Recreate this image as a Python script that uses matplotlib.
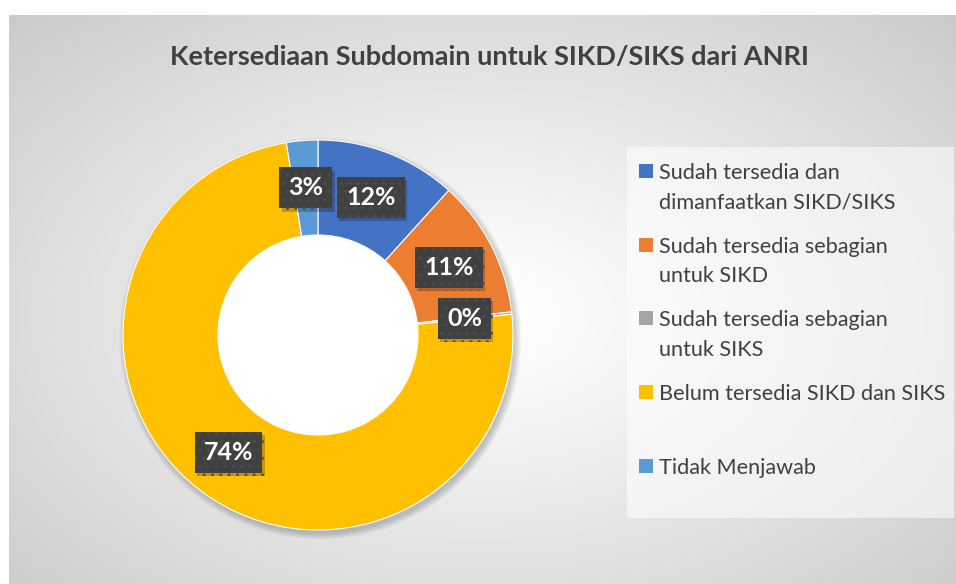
import numpy as np
import matplotlib
matplotlib.use('Agg')
import matplotlib.pyplot as plt
from matplotlib.patches import Rectangle, Circle
import matplotlib.patheffects as pe

# ---- data ----
title = 'Ketersediaan Subdomain untuk SIKD/SIKS dari ANRI'
categories = ['Sudah tersedia dan\ndimanfaatkan SIKD/SIKS',
              'Sudah tersedia sebagian\nuntuk SIKD',
              'Sudah tersedia sebagian\nuntuk SIKS',
              'Belum tersedia SIKD dan SIKS',
              'Tidak Menjawab']
values = [11.7, 11.4, 0.2, 74.1, 2.6]
colors = ['#4472C4', '#ED7D31', '#A5A5A5', '#FFC000', '#5B9BD5']

W, H = 956, 584
TXT = '#404040'
plt.rcParams['font.family'] = ['Lato', 'DejaVu Sans']

fig = plt.figure(figsize=(W / 100, H / 100), dpi=100)
fig.patch.set_facecolor('white')

# ---- chart area background (radial gradient) ----
bg = fig.add_axes([9 / W, 0, (W - 9) / W, (H - 15) / H], zorder=0)
gy, gx = np.mgrid[0:569, 0:947]
d = np.sqrt(((gx - 473) / 473.0) ** 2 + ((gy - 300) / 300.0) ** 2) / np.sqrt(2)
d = np.clip(d, 0, 1) ** 1.1
shade = 1.0 - d * (1.0 - 0.79)
bg.imshow(shade, cmap='gray', vmin=0, vmax=1, aspect='auto', interpolation='bilinear')
bg.axis('off')

# ---- title ----
fig.text(490 / W, 1 - 57 / H, title, ha='center', va='center',
         fontsize=19.5, fontweight='bold', color=TXT, zorder=5)

# ---- doughnut ----
R_OUT, R_IN = 195, 100
cx, cy = 318, 335
half = 205
ax = fig.add_axes([(cx - half) / W, (H - cy - half) / H, 2 * half / W, 2 * half / H], zorder=2)

# soft shadow under the ring
for k in range(6):
    ax.add_patch(Circle((0.012, -0.018), 1.0 + 0.006 * k, fc='black', ec='none',
                        alpha=0.035, zorder=0))

wedges, _, autotexts = ax.pie(
    values, colors=colors, startangle=90, counterclock=False, radius=1.0,
    autopct=lambda p: f'{p:.0f}%', pctdistance=(R_OUT + R_IN) / 2 / R_OUT,
    wedgeprops=dict(width=1 - R_IN / R_OUT, edgecolor='white', linewidth=0.8))
# white hole
ax.add_patch(Circle((0, 0), R_IN / R_OUT, fc='white', ec='none', zorder=0.5))
ax.set_xlim(-half / R_OUT, half / R_OUT)
ax.set_ylim(-half / R_OUT, half / R_OUT)
ax.axis('off')

for t in autotexts:
    t.set_color('white')
    t.set_fontsize(18)
    t.set_fontweight('bold')
    t.set_bbox(dict(boxstyle='square,pad=0.36', fc='#404040', ec='#4e4e4e',
                    hatch='..', lw=0))
    t.get_bbox_patch().set_path_effects([
        pe.SimplePatchShadow(offset=(1.5, -2.5), shadow_rgbFace='black', alpha=0.22),
        pe.Normal()])

# ---- legend (manual, entries wrap like the original) ----
lg = fig.add_axes([0, 0, 1, 1], zorder=3)
lg.set_xlim(0, W)
lg.set_ylim(H, 0)
lg.axis('off')
lg.add_patch(Rectangle((627, 147), 327, 371, fc='white', ec='none', alpha=0.55))
for i, (lab, col) in enumerate(zip(categories, colors)):
    y0 = 171 + i * 73.7
    lg.add_patch(Rectangle((639, y0 - 7), 14, 14, fc=col, ec='none'))
    lg.text(659, y0 - 8, lab, ha='left', va='top', fontsize=15.6, color=TXT,
            linespacing=1.58)

fig.savefig('out.png', dpi=100, facecolor='white')
